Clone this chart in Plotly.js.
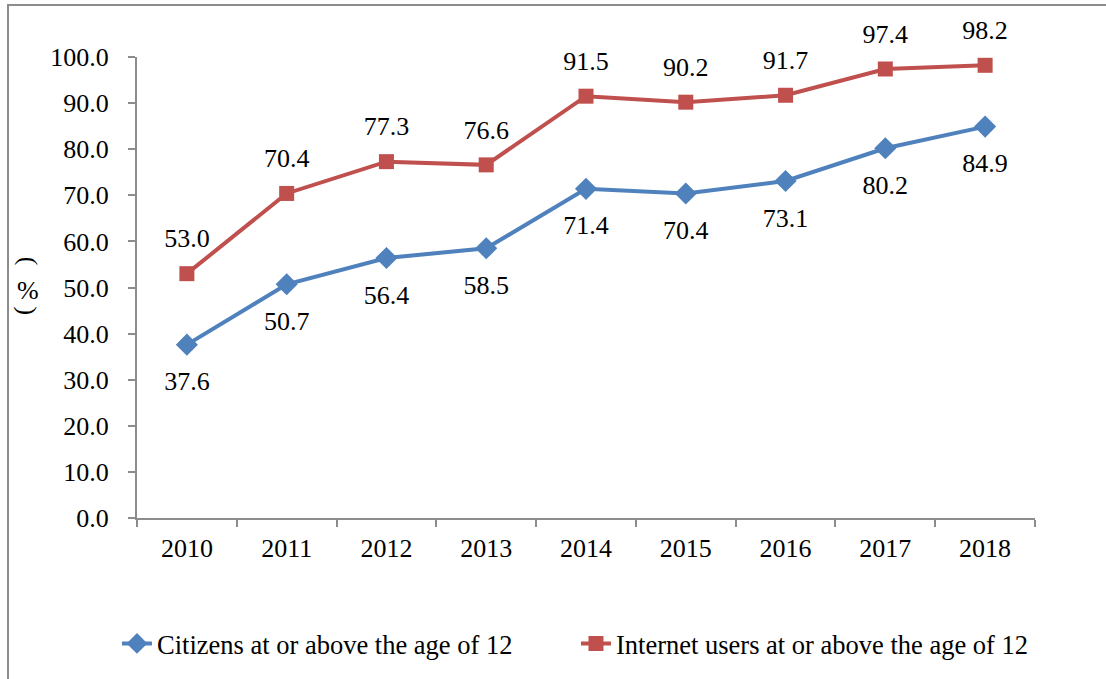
<!DOCTYPE html>
<html>
<head>
<meta charset="utf-8">
<script src="https://cdn.plot.ly/plotly-3.0.1.min.js"></script>
<style>
html,body{margin:0;padding:0;background:#fff;}
#wrap{position:relative;width:1106px;height:679px;}
#frame{position:absolute;left:7px;top:4px;width:1110px;height:690px;border-left:2px solid #8c8c8c;border-top:2px solid #8c8c8c;box-sizing:border-box;pointer-events:none;z-index:5;}
#chart{position:absolute;left:0;top:0;width:1106px;height:679px;}
</style>
</head>
<body>
<div id="wrap">
<div id="chart"></div>
<div id="frame"></div>
</div>
<script>
const years = ["2010","2011","2012","2013","2014","2015","2016","2017","2018"];
const citizens = [37.6, 50.7, 56.4, 58.5, 71.4, 70.4, 73.1, 80.2, 84.9];
const internetUsers = [53.0, 70.4, 77.3, 76.6, 91.5, 90.2, 91.7, 97.4, 98.2];
const seriesNames = ["Citizens at or above the age of 12", "Internet users at or above the age of 12"];
const yTitleParts = ["(", "%", ")"];

const FONT = "Liberation Serif";
const FS = 26;
const BLUE = "#4F81BD", RED = "#C0504D";

const traces = [
  {
    x: years, y: citizens, name: seriesNames[0], type: "scatter", mode: "lines+markers",
    line: {color: BLUE, width: 4},
    marker: {symbol: "diamond", size: 17, color: BLUE}
  },
  {
    x: years, y: internetUsers, name: seriesNames[1], type: "scatter", mode: "lines+markers",
    line: {color: RED, width: 4},
    marker: {symbol: "square", size: 15, color: RED}
  },
  // data labels (invisible wide markers only push the labels away from the points)
  {
    x: years, y: citizens, type: "scatter", mode: "markers+text", showlegend: false, hoverinfo: "skip",
    marker: {size: 40, color: "rgba(0,0,0,0)"},
    texttemplate: "%{y:.1f}", textposition: "bottom center",
    textfont: {family: FONT, size: FS, color: "#000"}, cliponaxis: false
  },
  {
    x: years, y: internetUsers, type: "scatter", mode: "markers+text", showlegend: false, hoverinfo: "skip",
    marker: {size: 30, color: "rgba(0,0,0,0)"},
    texttemplate: "%{y:.1f}", textposition: "top center",
    textfont: {family: FONT, size: FS, color: "#000"}, cliponaxis: false
  }
];
const layout = {
  width: 1106, height: 679,
  margin: {l: 137, r: 71, t: 57, b: 160},
  paper_bgcolor: "#fff", plot_bgcolor: "#fff",
  font: {family: FONT, size: FS, color: "#000"},
  showlegend: true,
  legend: {
    orientation: "h", xref: "paper", yref: "paper",
    x: -0.0223, xanchor: "left", y: -0.27, yanchor: "middle",
    font: {family: FONT, size: 26.5, color: "#000"},
    entrywidth: 414, entrywidthmode: "pixels"
  },
  xaxis: {
    type: "category", range: [-0.5, 8.5],
    showline: true, linecolor: "#8c8c8c", linewidth: 2,
    ticks: "outside", tickson: "boundaries", ticklen: 7, tickwidth: 2, tickcolor: "#8c8c8c",
    showgrid: false, zeroline: false,
    tickfont: {family: FONT, size: FS, color: "#000"},
    ticklabelstandoff: 6
  },
  yaxis: {
    range: [0, 100], dtick: 10, tickformat: ".1f",
    showline: true, linecolor: "#8c8c8c", linewidth: 2,
    ticks: "outside", ticklen: 7, tickwidth: 2, tickcolor: "#8c8c8c",
    showgrid: false, zeroline: false,
    tickfont: {family: FONT, size: FS, color: "#000"},
    ticklabelstandoff: 14
  },
  annotations: [
    {text: yTitleParts[0], xref: "paper", yref: "paper", x: -0.1214, y: 0.556, textangle: 90,
     xanchor: "center", yanchor: "middle", showarrow: false, font: {family: FONT, size: FS, color: "#000"}},
    {text: yTitleParts[1], xref: "paper", yref: "paper", x: -0.1214, y: 0.493, textangle: 0,
     xanchor: "center", yanchor: "middle", showarrow: false, font: {family: FONT, size: FS, color: "#000"}},
    {text: yTitleParts[2], xref: "paper", yref: "paper", x: -0.1214, y: 0.448, textangle: 90,
     xanchor: "center", yanchor: "middle", showarrow: false, font: {family: FONT, size: FS, color: "#000"}}
  ]
};
Plotly.newPlot("chart", traces, layout, {displayModeBar: false, staticPlot: true});
</script>
</body>
</html>
